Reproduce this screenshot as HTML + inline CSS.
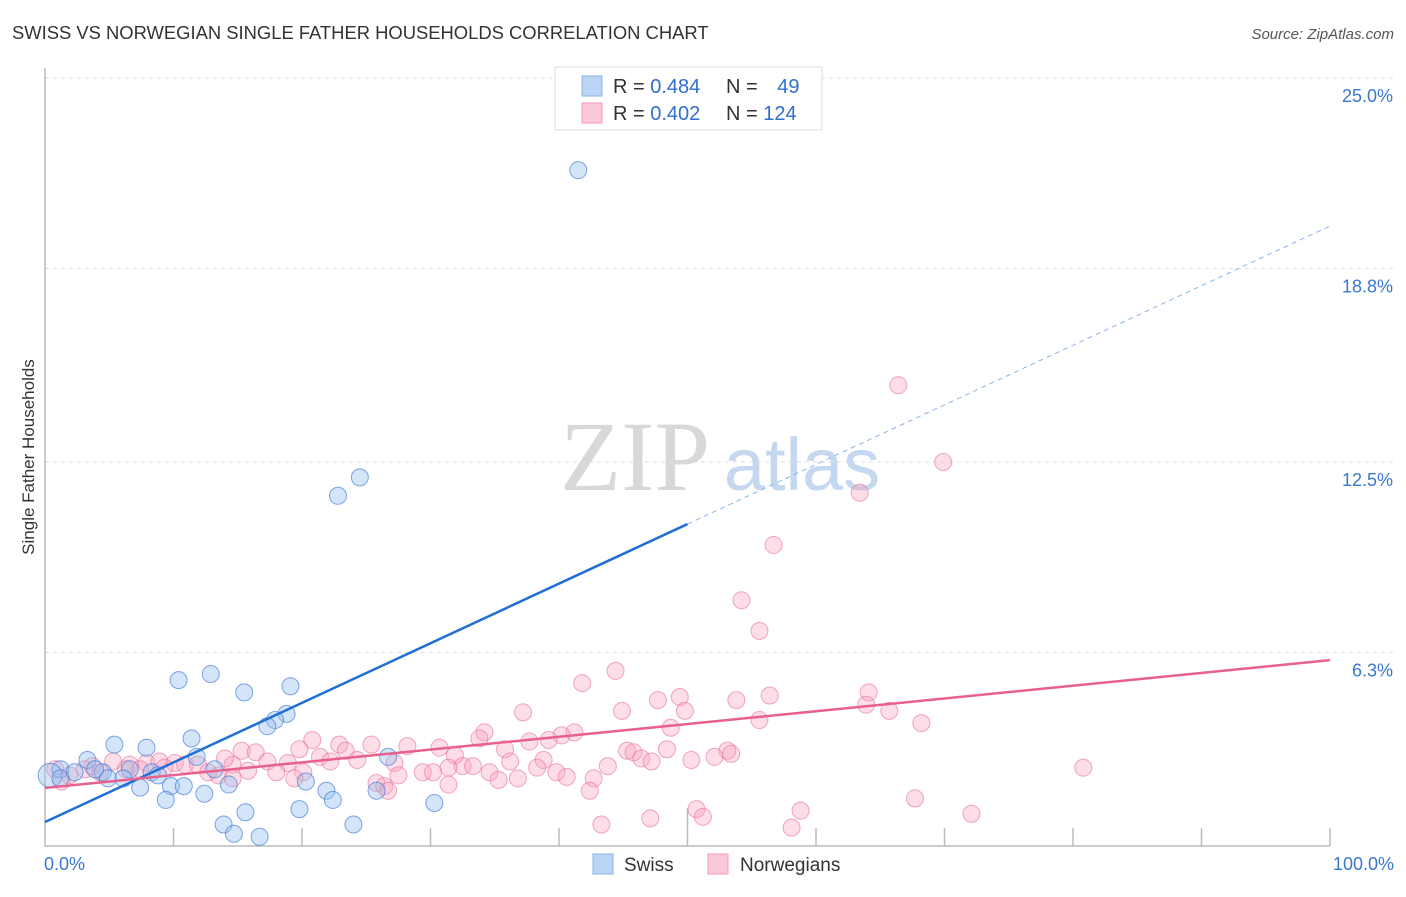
<!DOCTYPE html>
<html><head><meta charset="utf-8"><style>
body{margin:0;background:#fff;font-family:"Liberation Sans",sans-serif}
</style></head><body>
<svg id="chart" width="1406" height="892" xmlns="http://www.w3.org/2000/svg" font-family="Liberation Sans, sans-serif">
<text x="12" y="39" font-size="18.4" fill="#333">SWISS VS NORWEGIAN SINGLE FATHER HOUSEHOLDS CORRELATION CHART</text>
<text x="1394" y="39" font-size="15" fill="#555" text-anchor="end" font-style="italic">Source: ZipAtlas.com</text>
<text transform="translate(34,457) rotate(-90)" font-size="17" fill="#333" text-anchor="middle">Single Father Households</text>
<g>
<text x="635" y="490" font-size="100" fill="#d8d8d8" style="font-family:'Liberation Serif',serif" text-anchor="middle">ZIP</text>
<text x="802" y="490" font-size="74" fill="#c4d8ef" text-anchor="middle">atlas</text>
</g>
<g id="grid"></g>
<g id="axes"></g>
<g id="pts"></g>
<g id="lines"></g>
<g>
<rect x="555" y="67" width="267" height="63" fill="#fff" stroke="#ddd"/>
<rect x="582" y="76" width="20" height="20" fill="#bcd5f5" stroke="#8ab4e8"/>
<rect x="582" y="103" width="20" height="20" fill="#fcc9d8" stroke="#f09ab5"/>
<text x="613" y="93" font-size="20" fill="#333">R = <tspan fill="#2f6fd0">0.484</tspan></text>
<text x="726" y="93" font-size="20" fill="#333">N = <tspan fill="#2f6fd0" dx="14">49</tspan></text>
<text x="613" y="120" font-size="20" fill="#333">R = <tspan fill="#2f6fd0">0.402</tspan></text>
<text x="726" y="120" font-size="20" fill="#333">N = <tspan fill="#2f6fd0">124</tspan></text>
</g>
<g>
<rect x="593" y="854" width="20" height="20" fill="#bcd5f5" stroke="#8ab4e8"/>
<text x="624" y="871" font-size="19" fill="#333">Swiss</text>
<rect x="708" y="854" width="20" height="20" fill="#fcc9d8" stroke="#f09ab5"/>
<text x="740" y="871" font-size="19" fill="#333">Norwegians</text>
</g>
</svg>
<script>
const yTicks=[25.0,18.8,12.5,6.3];
const yTickLabels=["25.0%","18.8%","12.5%","6.3%"];
const xTickLabels=["0.0%","100.0%"];
const swissX=[41.5,24.5,22.8,10.4,12.9,19.1,15.5,18.8,17.9,17.3,11.4,5.4,7.9,11.8,3.3,26.7,1.2,2.3,4.5,6.6,8.3,13.2,4.9,6.1,8.8,0.4,7.4,9.8,10.8,12.4,14.3,20.3,21.9,22.4,25.8,9.4,15.6,19.8,30.3,13.9,14.7,16.7,24.0,1.2,3.9];
const swissY=[22.0,12.0,11.4,5.4,5.6,5.2,5.0,4.3,4.1,3.9,3.5,3.3,3.2,2.9,2.8,2.9,2.5,2.4,2.4,2.5,2.4,2.5,2.2,2.2,2.3,2.3,1.9,1.95,1.95,1.7,2.0,2.1,1.8,1.5,1.8,1.5,1.1,1.2,1.4,0.7,0.4,0.3,0.7,2.2,2.5];
const norX=[66.4,69.9,63.4,56.7,54.2,55.6,44.4,41.8,64.1,56.4,49.4,47.7,53.8,63.9,49.8,65.7,37.2,44.9,55.6,68.2,48.7,34.2,41.2,40.2,20.8,39.2,33.8,37.7,25.4,22.9,30.7,28.2,19.8,45.3,48.4,45.8,35.8,53.1,53.4,23.4,15.3,16.4,31.9,52.1,46.4,50.3,21.4,24.3,18.9,27.2,14.6,17.3,36.2,38.8,47.2,14.0,22.2,32.5,31.4,33.3,38.3,43.8,80.8,7.9,8.9,10.1,10.9,11.9,6.6,5.3,6.3,12.7,15.8,18.0,20.1,27.5,29.4,30.2,34.6,39.8,40.6,42.7,13.5,14.6,19.4,25.8,26.4,31.4,35.3,36.8,42.4,26.7,67.7,50.7,51.2,58.8,72.1,43.3,47.1,58.1,0.8,1.9,3.1,4.3,1.3,3.7,7.4,9.3];
const norY=[15.0,12.5,11.5,9.8,8.0,7.0,5.7,5.3,5.0,4.9,4.85,4.75,4.75,4.6,4.4,4.4,4.35,4.4,4.1,4.0,3.85,3.7,3.7,3.6,3.45,3.45,3.5,3.4,3.3,3.3,3.2,3.25,3.15,3.1,3.15,3.05,3.15,3.1,3.0,3.1,3.1,3.05,2.95,2.9,2.85,2.8,2.9,2.8,2.7,2.7,2.65,2.75,2.75,2.8,2.75,2.85,2.75,2.6,2.55,2.6,2.55,2.6,2.55,2.7,2.75,2.7,2.65,2.65,2.65,2.75,2.5,2.4,2.45,2.4,2.4,2.3,2.4,2.4,2.4,2.4,2.25,2.2,2.3,2.2,2.2,2.05,1.95,2.0,2.15,2.2,1.8,1.8,1.55,1.2,0.95,1.15,1.05,0.7,0.9,0.6,2.5,2.3,2.5,2.4,2.1,2.6,2.5,2.55];
const swissFit=[0.78,0.194]; // intercept, slope
const norFit=[1.89,0.0416];
const X0=45,X1=1330,Y0=846,PER=30.72;
const sx=v=>X0+(X1-X0)*v/100, sy=v=>Y0-v*PER;
const NS="http://www.w3.org/2000/svg";
function mk(t,a,p){const e=document.createElementNS(NS,t);for(const k in a)e.setAttribute(k,a[k]);p.appendChild(e);return e;}
const grid=document.getElementById('grid'),axes=document.getElementById('axes'),pts=document.getElementById('pts'),lines=document.getElementById('lines');
yTicks.forEach((t,i)=>{
 const l=mk('line',{x1:X0,x2:1394,y1:sy(t),y2:sy(t),stroke:'#ddd','stroke-dasharray':'4,4'},grid);
 
 
 const tx=mk('text',{x:1393,y:sy(t)+24,'font-size':18,fill:'#3a78d0','text-anchor':'end'},axes);
 tx.textContent=yTickLabels[i];
 
 
});
const ax=mk('path',{d:`M${X0} 68 V${Y0} H${X1}`,stroke:'#bbb',fill:'none','stroke-width':1.5},axes);


for(let i=1;i<=10;i++){
 const x=sx(i*10);
 const t=mk('line',{x1:x,x2:x,y1:i==5?808:828,y2:Y0,stroke:'#bbb','stroke-width':1.5},axes);
 
 
}
[[0,'start',44],[100,'end',1394]].forEach((d,i)=>{
 const t=mk('text',{x:d[2],y:870,'font-size':18,fill:'#3a78d0','text-anchor':d[1]},axes);
 t.textContent=xTickLabels[i];
 
 
});
norX.forEach((v,i)=>{
 const c=mk('circle',{cx:sx(v),cy:sy(norY[i]),r:8.5,fill:'rgba(248,160,188,0.35)',stroke:'rgba(232,110,150,0.6)','stroke-width':1},pts);
 
 
});
swissX.forEach((v,i)=>{
 const c=mk('circle',{cx:sx(v),cy:sy(swissY[i]),r:v<0.5&&swissY[i]>2.25?12:8.5,fill:'rgba(150,190,240,0.4)',stroke:'rgba(60,120,210,0.65)','stroke-width':1},pts);
 
 
});
const f=(p,x)=>p[0]+p[1]*x;
let l=mk('line',{x1:sx(0),y1:sy(f(swissFit,0)),x2:sx(50),y2:sy(f(swissFit,50)),stroke:'#1f6fd6','stroke-width':2.5},lines);


l=mk('line',{x1:sx(50),y1:sy(f(swissFit,50)),x2:sx(100),y2:sy(f(swissFit,100)),stroke:'#8ab4e8','stroke-width':1,'stroke-dasharray':'5,4'},lines);


l=mk('line',{x1:sx(0),y1:sy(f(norFit,0)),x2:sx(100),y2:sy(f(norFit,100)),stroke:'#e8608c','stroke-width':2.5},lines);


</script>
</body></html>
